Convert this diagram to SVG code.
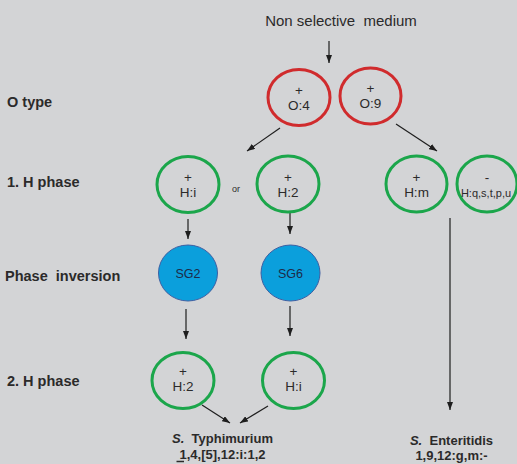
<svg xmlns="http://www.w3.org/2000/svg" width="517" height="464" viewBox="0 0 517 464">
<defs>
<style>
text{font-family:"Liberation Sans","Arial",sans-serif;fill:#2b2a2a;}
.lbl{font-size:14.5px;font-weight:bold;}
.ct{font-size:13.5px;text-anchor:middle;}
.red{fill:none;stroke:#d02b2d;stroke-width:3;}
.grn{fill:none;stroke:#1ba64b;stroke-width:3;}
.blue{fill:#0b9fdc;stroke:#3d5fa3;stroke-width:1;}
.sg{font-size:12.5px;text-anchor:middle;fill:#1d2b49;}
.ar{stroke:#1e1e1e;stroke-width:1.2;fill:none;marker-end:url(#ah);}
.res{font-size:13px;font-weight:bold;text-anchor:middle;}
</style>
<marker id="ah" viewBox="0 0 8 6" refX="8" refY="3" markerWidth="8" markerHeight="6" orient="auto" markerUnits="userSpaceOnUse">
<path d="M0,0 L8,3 L0,6 z" fill="#1e1e1e"/>
</marker>
</defs>
<rect width="517" height="464" fill="#d3d4d6"/>

<g id="labels">
<text class="lbl" x="7" y="107">O type</text>
<text class="lbl" x="7" y="187">1. H phase</text>
<text class="lbl" x="5" y="281">Phase&#160; inversion</text>
<text class="lbl" x="7" y="386">2. H phase</text>
</g>

<g id="title"><text x="341" y="26" style="font-size:15px;text-anchor:middle">Non selective&#160; medium</text></g>

<g id="connectors">
<line class="ar" x1="329" y1="41" x2="329" y2="63"/>
<line class="ar" x1="280" y1="128" x2="247" y2="151"/>
<line class="ar" x1="396" y1="124" x2="437" y2="151"/>
<line class="ar" x1="188" y1="219" x2="188" y2="239"/>
<line class="ar" x1="290" y1="213" x2="290" y2="234"/>
<line class="ar" x1="450" y1="218" x2="450" y2="410"/>
<line class="ar" x1="186" y1="309" x2="186" y2="339"/>
<line class="ar" x1="290" y1="306" x2="290" y2="336"/>
<line class="ar" x1="202" y1="405" x2="230" y2="423"/>
<line class="ar" x1="268" y1="406" x2="240" y2="423"/>
</g>

<g id="o4"><ellipse class="red" cx="299" cy="97.5" rx="31" ry="28"/><text class="ct" x="299" y="95">+<tspan x="299" dy="15">O:4</tspan></text></g>
<g id="o9"><ellipse class="red" cx="370.5" cy="96" rx="30.5" ry="28"/><text class="ct" x="370.5" y="93">+<tspan x="370.5" dy="15">O:9</tspan></text></g>

<g id="h1i"><ellipse class="grn" cx="188" cy="184.5" rx="31" ry="28"/><text class="ct" x="188" y="182">+<tspan x="188" dy="15">H:i</tspan></text></g>
<g id="or"><text x="236" y="192" style="font-size:9px;text-anchor:middle">or</text></g>
<g id="h12"><ellipse class="grn" cx="288" cy="184" rx="31" ry="28"/><text class="ct" x="288" y="182">+<tspan x="288" dy="15">H:2</tspan></text></g>
<g id="h1m"><ellipse class="grn" cx="416.5" cy="184" rx="30.5" ry="28"/><text class="ct" x="416.5" y="182">+<tspan x="416.5" dy="15">H:m</tspan></text></g>
<g id="h1q"><ellipse class="grn" cx="487" cy="184" rx="30" ry="28"/><text class="ct" x="487" y="182">-<tspan x="486" dy="15" style="font-size:11px">H:q,s,t,p,u</tspan></text></g>

<g id="sg2"><ellipse class="blue" cx="188" cy="273" rx="29.5" ry="28"/><text class="sg" x="188" y="277.5">SG2</text></g>
<g id="sg6"><ellipse class="blue" cx="290.5" cy="273" rx="29.5" ry="28"/><text class="sg" x="290.5" y="277.5">SG6</text></g>

<g id="h22"><ellipse class="grn" cx="183" cy="380.5" rx="31" ry="28"/><text class="ct" x="183" y="376">+<tspan x="183" dy="15">H:2</tspan></text></g>
<g id="h2i"><ellipse class="grn" cx="293.5" cy="380.5" rx="31" ry="28"/><text class="ct" x="293.5" y="376">+<tspan x="293.5" dy="15">H:i</tspan></text></g>

<g id="typhimurium">
<text class="res" x="222.5" y="443"><tspan font-style="italic">S.</tspan>&#160; Typhimurium<tspan x="222.5" dy="16">1,4,[5],12:i:1,2</tspan></text>
<line x1="176.5" y1="461.5" x2="184" y2="461.5" stroke="#2b2a2a" stroke-width="1.5"/>
</g>
<g id="enteritidis">
<text class="res" x="451.5" y="445"><tspan font-style="italic">S.</tspan>&#160; Enteritidis<tspan x="451.5" dy="15">1,9,12:g,m:-</tspan></text>
</g>
</svg>
